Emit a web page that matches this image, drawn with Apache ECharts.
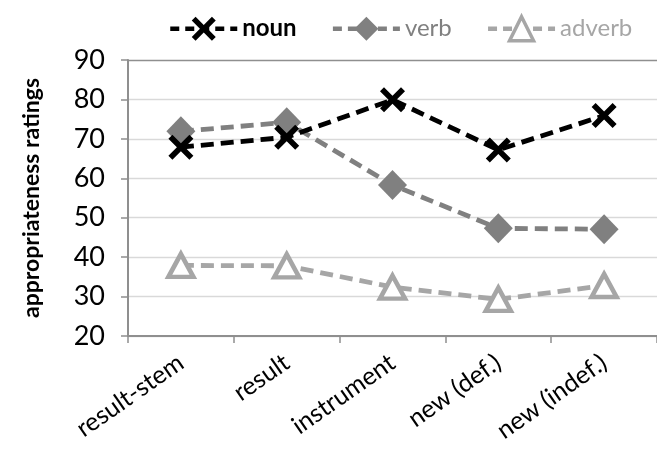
<!DOCTYPE html>
<html>
<head>
<meta charset="utf-8">
<script src="https://cdn.jsdelivr.net/npm/echarts@6/dist/echarts.min.js"></script>
<style>
  html, body { margin: 0; padding: 0; background: #fff; }
  #chart { width: 657px; height: 450px; }
</style>
</head>
<body>
<div id="chart"></div>
<script>
// Conditions on the x axis
const categories = ['result-stem', 'result', 'instrument', 'new (def.)', 'new (indef.)'];

// Mean appropriateness ratings per word class
const nounValues = [67.9, 70.4, 79.9, 67.2, 75.9];
const verbValues = [71.9, 74.2, 58.3, 47.3, 47.1];
const adverbValues = [37.9, 37.8, 32.4, 29.3, 32.8];

// Y axis range and step
const yMin = 20;
const yMax = 90;
const yStep = 10;

const FONT = 'Lato, "DejaVu Sans", sans-serif';
const CROSS = 'path://M0,1.6 L1.6,0 L5,3.4 L8.4,0 L10,1.6 L6.6,5 L10,8.4 L8.4,10 L5,6.6 L1.6,10 L0,8.4 L3.4,5 Z';
const DASH = [13, 7];
const AXIS_GREY = '#8f8f8f';
const GRID_GREY = '#d9d9d9';

// light grid lines, with the top one drawn as the plot frame
const gridColors = [];
for (let v = yMin; v <= yMax; v += yStep) {
  gridColors.push(v === yMax ? AXIS_GREY : GRID_GREY);
}

const chart = echarts.init(document.getElementById('chart'), null, { renderer: 'canvas' });

chart.setOption({
  animation: false,
  backgroundColor: '#ffffff',
  textStyle: { fontFamily: FONT },
  grid: { left: 128, right: -7, top: 60, bottom: 114, containLabel: false },
  legend: {
    top: 10,
    left: 163,
    itemWidth: 67,
    itemHeight: 30,
    itemGap: 34,
    lineStyle: { width: 4.5, type: [9, 6] },
    textStyle: { fontFamily: FONT, fontSize: 24 },
    data: [
      { name: 'noun', textStyle: { color: '#000000', fontWeight: 'bold' } },
      { name: 'verb', textStyle: { color: '#808080' } },
      { name: 'adverb', textStyle: { color: '#a6a6a6' }, itemStyle: { borderWidth: 3.5 } }
    ]
  },
  xAxis: {
    type: 'category',
    data: categories,
    boundaryGap: true,
    axisLine: { lineStyle: { color: AXIS_GREY, width: 2 } },
    axisTick: { show: true, length: 7, lineStyle: { color: AXIS_GREY, width: 1.5 } },
    axisLabel: {
      rotate: 35,
      margin: 24,
      fontSize: 25,
      color: '#000000',
      fontFamily: FONT,
      interval: 0
    },
    splitLine: { show: false }
  },
  yAxis: {
    type: 'value',
    min: yMin,
    max: yMax,
    interval: yStep,
    name: 'appropriateness ratings',
    nameLocation: 'middle',
    nameGap: 85,
    nameTextStyle: { fontSize: 23, fontWeight: 'bold', color: '#000000', fontFamily: FONT },
    axisLine: { show: true, lineStyle: { color: AXIS_GREY, width: 2 } },
    axisTick: { show: true, length: 7, lineStyle: { color: AXIS_GREY, width: 1.5 } },
    axisLabel: { fontSize: 27, color: '#000000', margin: 23, fontFamily: FONT },
    splitLine: { show: true, lineStyle: { color: gridColors, width: 1.3 } }
  },
  series: [
    {
      name: 'adverb',
      type: 'line',
      data: adverbValues,
      z: 2,
      symbol: 'triangle',
      symbolSize: [25, 23],
      itemStyle: { color: '#ffffff', borderColor: '#a6a6a6', borderWidth: 4.5 },
      lineStyle: { color: '#a6a6a6', width: 4.8, type: DASH }
    },
    {
      name: 'verb',
      type: 'line',
      data: verbValues,
      z: 3,
      symbol: 'diamond',
      symbolSize: [29, 30],
      itemStyle: { color: '#808080' },
      lineStyle: { color: '#808080', width: 4.8, type: DASH }
    },
    {
      name: 'noun',
      type: 'line',
      data: nounValues,
      z: 4,
      symbol: CROSS,
      symbolSize: 25,
      itemStyle: { color: '#000000' },
      lineStyle: { color: '#000000', width: 4.8, type: DASH }
    }
  ]
});
</script>
</body>
</html>
